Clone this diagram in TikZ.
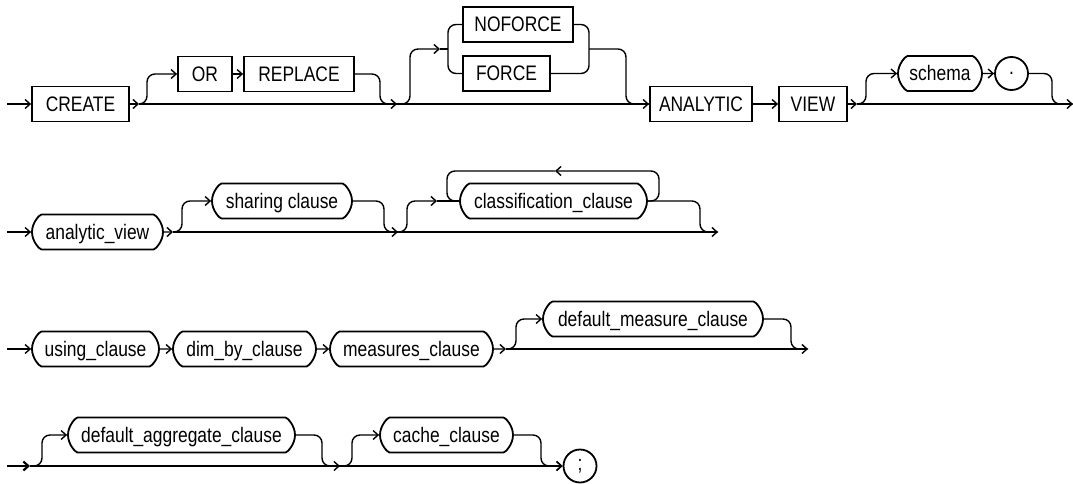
\documentclass[tikz,border=0pt]{standalone}
\usepackage{fontspec}
\setmainfont{Liberation Sans}[FakeStretch=0.83]
\usepackage{tikz}
\usetikzlibrary{arrows.meta,positioning,shapes.misc}

\begin{document}
\begin{tikzpicture}[
  x=1pt, y=-1pt,
  kw/.style={draw, sharp corners, line width=1.8pt, minimum height=35pt, inner sep=0pt, text height=15pt, text depth=0pt, font=\fontsize{21pt}{25pt}\selectfont},
  nt/.style={rounded rectangle, draw, line width=1.8pt, minimum height=35pt, inner sep=0pt, text height=15pt, text depth=0pt, font=\fontsize{21pt}{25pt}\selectfont},
  cir/.style={circle, draw, line width=1.8pt, minimum size=33pt, inner sep=0pt, font=\fontsize{21pt}{25pt}\selectfont},
  rail/.style={draw, line width=1.4pt},
  line/.style={rail, -{Straight Barb[length=5pt,width=9pt]}},
  rounded corners=8pt
]
\useasboundingbox (0,0) rectangle (1073,484);

% row 1
\node[kw, minimum width=97pt] (create) at (80.5,104) {CREATE};
\node[kw, minimum width=54pt] (or) at (205,74) {OR};
\node[kw, minimum width=110pt] (replace) at (299,74) {REPLACE};
\node[kw, minimum width=110pt] (noforce) at (518,24.5) {NOFORCE};
\node[kw, minimum width=87pt] (force) at (506.5,73.5) {FORCE};
\node[kw, minimum width=102pt] (analytic) at (701,104) {ANALYTIC};
\node[kw, minimum width=68pt] (view) at (813,104) {VIEW};
\node[nt, minimum width=84pt] (schema) at (940,73.5) {schema};
\node[cir] (dot) at (1011.5,73.5) {.};
\coordinate (s1) at (7,104);
\coordinate (b1) at (139,104);
\coordinate (m1) at (397,104);
\coordinate (f1) at (440,49);
\coordinate (j1) at (589,49);
\coordinate (b3) at (857,104);
\coordinate (e1) at (1073,104);

\draw[line] (s1) -- (create);
\draw[line] (create) -- (b1);
\draw[rail] (b1) -- (m1);
\draw[line] (b1) -| (147,74) -- (or.west);
\draw[line] (or) -- (replace);
\draw[line] (replace.east) -| (380,104) -- (m1);
\draw[line] (m1) -| (410,49) -- (f1);
\draw[rail] (f1) -- (448,49);
\draw[rail] (noforce.west) -| (448,49) |- (force.west);
\draw[rail] (noforce.east) -| (j1) |- (force.east);
\draw[rail] (j1) -| (626,104) -- (analytic.west);
\draw[line] (m1) -- (analytic);
\draw[line] (analytic) -- (view);
\draw[line] (view) -- (b3);
\draw[line] (b3) -- (e1);
\draw[line] (b3) -| (866,73.5) -- (schema.west);
\draw[line] (schema) -- (dot);
\draw[rail] (dot.east) -| (1052,104) -- (e1);

% row 2
\node[nt, minimum width=131pt] (aview) at (97.5,232) {analytic\_view};
\node[nt, minimum width=140pt] (sharing) at (282,201) {sharing clause};
\node[nt, minimum width=187pt] (classif) at (553.5,201) {classification\_clause};
\coordinate (s2) at (7,232);
\coordinate (b4) at (173,232);
\coordinate (m4) at (398,232);
\coordinate (f4) at (437,201);
\coordinate (lp) at (555,171);
\coordinate (e2) at (718,232);

\draw[line] (s2) -- (aview);
\draw[line] (aview) -- (b4);
\draw[rail] (b4) -- (m4);
\draw[line] (b4) -| (182,201) -- (sharing.west);
\draw[line] (sharing.east) -| (384,232) -- (m4);
\draw[line] (m4) -- (e2);
\draw[line] (m4) -| (407,201) -- (f4);
\draw[rail] (f4) -- (classif.west);
\draw[line] (classif.east) -| (659,171) -- (lp);
\draw[rail] (lp) -| (447,201) -- (classif.west);
\draw[rail] (classif.east) -| (700,232) -- (e2);

% row 3
\node[nt, minimum width=127pt] (using) at (95.5,349) {using\_clause};
\node[nt, minimum width=143pt] (dimby) at (244.5,349) {dim\_by\_clause};
\node[nt, minimum width=163pt] (measures) at (411.5,349) {measures\_clause};
\node[nt, minimum width=220pt] (defmeas) at (653,319) {default\_measure\_clause};
\coordinate (s3) at (7,349);
\coordinate (b5) at (506,349);
\coordinate (e3) at (808,349);

\draw[line] (s3) -- (using);
\draw[line] (using) -- (dimby);
\draw[line] (dimby) -- (measures);
\draw[line] (measures) -- (b5);
\draw[line] (b5) -- (e3);
\draw[line] (b5) -| (516,319) -- (defmeas.west);
\draw[rail] (defmeas.east) -| (791,349) -- (e3);

% row 4
\node[nt, minimum width=227pt] (defagg) at (181.5,435) {default\_aggregate\_clause};
\node[nt, minimum width=133pt] (cache) at (446.5,435) {cache\_clause};
\node[cir] (semi) at (580,466) {;};
\coordinate (s4) at (7,466);
\coordinate (b6) at (30,466);
\coordinate (m6) at (340,466);

\draw[line, line width=2.2pt] (s4) -- (b6);
\draw[rail] (b6) -- (m6);
\draw[line] (b6) -| (42,435) -- (defagg.west);
\draw[line] (defagg.east) -| (322,466) -- (m6);
\draw[line] (m6) -- (semi);
\draw[line] (m6) -| (352,435) -- (cache.west);
\draw[line] (cache.east) -| (541,466) -- (semi.west);
\end{tikzpicture}
\end{document}
